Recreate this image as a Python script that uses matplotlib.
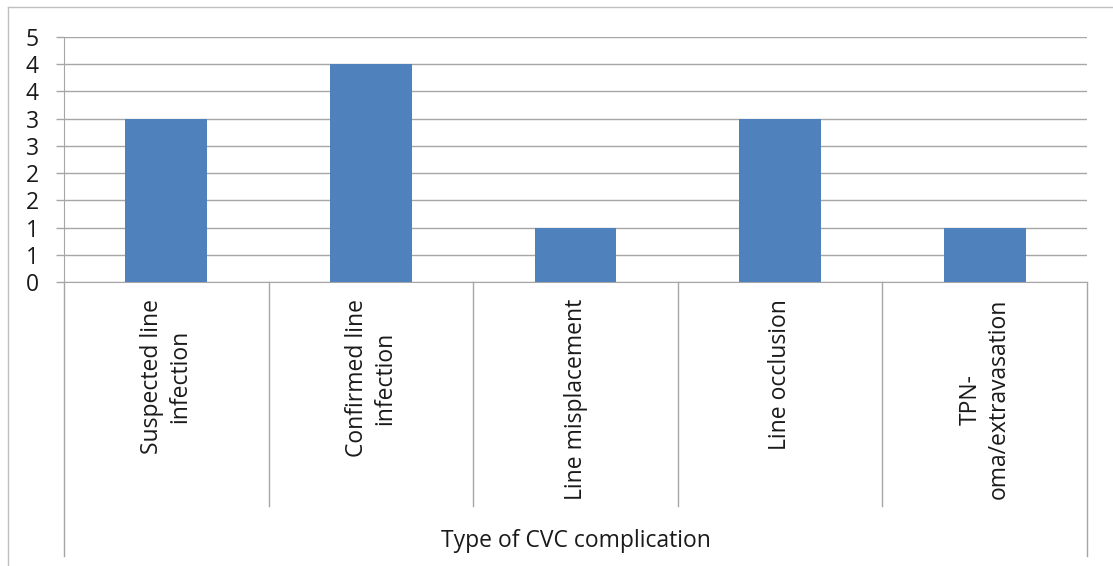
import matplotlib
matplotlib.use("Agg")
import matplotlib.pyplot as plt
import matplotlib.transforms as mtransforms
from matplotlib.lines import Line2D
import numpy as np

categories = ["Suspected line\ninfection", "Confirmed line\ninfection",
              "Line misplacement", "Line occlusion", "TPN-\noma/extravasation"]
values = [3, 4, 1, 3, 1]
y_ticks = [0, 0.5, 1, 1.5, 2, 2.5, 3, 3.5, 4, 4.5]
y_tick_labels = ["0", "1", "1", "2", "2", "3", "3", "4", "4", "5"]
x_title = "Type of CVC complication"

plt.rcParams['font.family'] = ['Open Sans', 'DejaVu Sans']
W, H = 1113, 566
fig = plt.figure(figsize=(W / 100, H / 100), dpi=100)

left, right, top, bottom = 64, 1087, 37, 282
ax = fig.add_axes([left / W, 1 - bottom / H, (right - left) / W, (bottom - top) / H])

grid_c = "#A6A6A6"
text_c = "#1A1A1A"
fs = 16.5
x = np.arange(len(categories))
ax.bar(x, values, width=0.4, color="#4F81BD", zorder=3)
ax.set_xlim(-0.5, len(categories) - 0.5)
ax.set_ylim(0, 4.5)
ax.set_yticks(y_ticks)
ax.set_yticklabels(y_tick_labels)
ax.yaxis.grid(True, color=grid_c, linewidth=1)
ax.set_axisbelow(True)
ax.tick_params(axis='y', length=6, width=1, color=grid_c, labelsize=fs,
               labelcolor=text_c, pad=12)
ax.set_xticks([])
for s in ["top", "right"]:
    ax.spines[s].set_visible(False)
ax.spines["left"].set_color(grid_c)
ax.spines["bottom"].set_color(grid_c)

# category separators below axis
trans = mtransforms.blended_transform_factory(ax.transData, fig.transFigure)
y_axis_f = 1 - bottom / H
for i in range(len(categories) + 1):
    xe = i - 0.5
    yend = 556 if i in (0, len(categories)) else 506
    ax.add_line(Line2D([xe, xe], [y_axis_f, 1 - yend / H], transform=trans,
                       color=grid_c, linewidth=1, clip_on=False))

for xi, lab in zip(x, categories):
    ax.text(xi, 1 - 299 / H, lab, transform=trans, rotation=90, ha='center',
            va='top', multialignment='center', fontsize=fs, color=text_c,
            linespacing=1.25)

fig.text((438 + 713) / 2 / W, 1 - 541 / H, x_title, ha='center', va='center',
         fontsize=fs, color=text_c)

# outer frame
frame_c = "#BFBFBF"
fig.add_artist(Line2D([8 / W, 8 / W], [1 - 7 / H, 0], transform=fig.transFigure,
                      color=frame_c, linewidth=1))
fig.add_artist(Line2D([8 / W, 1], [1 - 7 / H, 1 - 7 / H], transform=fig.transFigure,
                      color=frame_c, linewidth=1))

fig.savefig("out.png", dpi=100)
